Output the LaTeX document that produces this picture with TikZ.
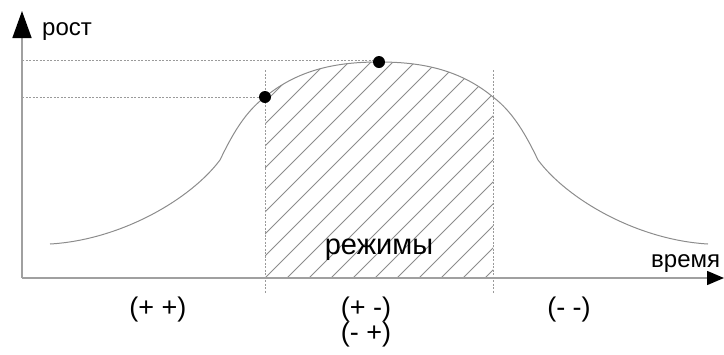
\documentclass[tikz,border=0pt]{standalone}
\usepackage{fontspec}
\setmainfont{Liberation Sans}
\usetikzlibrary{arrows.meta}
\definecolor{curvegray}{HTML}{8C8C8C}
\definecolor{axisgray}{HTML}{A0A0A0}
\definecolor{dashgray}{HTML}{9A9A9A}
\tikzset{
  axisline/.style={draw=axisgray, line width=1.5pt},
  guide/.style={draw=dashgray, line width=0.9pt, dash pattern=on 2pt off 1.5pt},
  bell/.style={draw=curvegray, line width=1pt},
  hatchline/.style={draw=curvegray, line width=0.8pt},
  dotnode/.style={circle, fill=black, inner sep=0pt, minimum size=12pt},
  lbl/.style={inner sep=0pt, anchor=base},
}
\begin{document}
\begin{tikzpicture}[x=1pt, y=-1pt]
\useasboundingbox (0,0) rectangle (724,354);
% coordinates
\coordinate (O) at (22,278);
\coordinate (Ytip) at (22,11);
\coordinate (Xtip) at (724,278);
\coordinate (H1) at (22,97);
\coordinate (H2) at (22,60);
\coordinate (T2) at (379,60);
\coordinate (V1t) at (265,70);
\coordinate (V1b) at (265,293);
\coordinate (V2t) at (493,70);
\coordinate (V2b) at (493,293);
% hatching
\begin{scope}
  \clip (265,278) -- (265,97) .. controls (300,68) and (340,62) .. (379,62)
        .. controls (418,62) and (458,68) .. (493,97) -- (493,278) -- cycle;
  \foreach \s in {0,...,22} {
    \draw[hatchline] (265-242+\s*22,278) -- ++(250,-250);
  }
\end{scope}
% curve
\draw[bell] (50,244) .. controls (120,240) and (190,200) .. (220,160)
  .. controls (232,135) and (245,112) .. (265,97)
  .. controls (300,68) and (340,62) .. (379,62)
  .. controls (418,62) and (458,68) .. (493,97)
  .. controls (513,112) and (526,135) .. (538,160)
  .. controls (568,200) and (638,240) .. (708,244);
% guides
\draw[guide] (H1) -- (265,97);
\draw[guide] (H2) -- (T2);
\draw[guide] (V1t) -- (V1b);
\draw[guide] (V2t) -- (V2b);
% axes
\draw[axisline, -{Triangle[color=black, length=27pt, width=19pt]}] (O) -- (Ytip);
\draw[axisline, -{Triangle[color=black, length=17pt, width=14pt]}] (O) -- (Xtip);
% dots on top
\node[dotnode] (P1) at (265,97) {};
\node[dotnode] (P2) at (379,62) {};
% labels
\node[lbl, anchor=base west, font=\fontsize{24}{26}\selectfont] (rost) at (42,35) {рост};
\node[lbl, anchor=base west, font=\fontsize{24}{26}\selectfont] (vremya) at (651,267) {время};
\node[lbl, font=\fontsize{29}{31}\selectfont] (rezh) at (379,254) {режимы};
\node[lbl, font=\fontsize{27}{29}\selectfont] (pp) at (158,316) {(+ +)};
\node[lbl, font=\fontsize{27}{29}\selectfont] (pm) at (366,316) {(+ -)};
\node[lbl, font=\fontsize{27}{29}\selectfont] (mp) at (366,341) {(- +)};
\node[lbl, font=\fontsize{27}{29}\selectfont] (mm) at (569,316) {(- -)};
\end{tikzpicture}
\end{document}
